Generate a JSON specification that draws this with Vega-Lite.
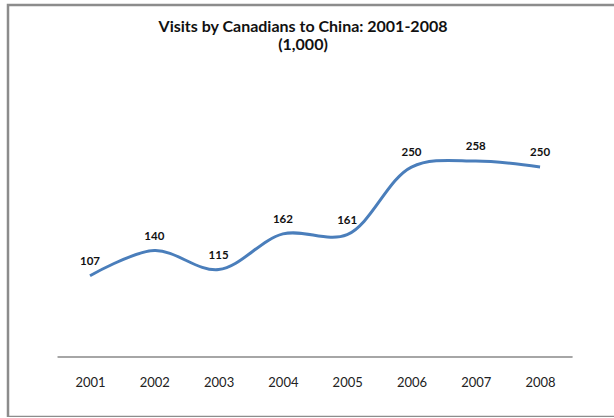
{
  "$schema": "https://vega.github.io/schema/vega-lite/v6.json",
  "width": 610,
  "height": 412,
  "autosize": {"type": "none"},
  "padding": {"left": 8, "top": 5, "right": 0, "bottom": 0},
  "background": "white",
  "config": {
    "view": {"stroke": "#8c8c8c", "strokeWidth": 2.5},
    "font": "Lato"
  },
  "title": {
    "text": ["Visits by Canadians to China: 2001-2008", "(1,000)"],
    "font": "Lato",
    "fontSize": 16,
    "fontWeight": "bold",
    "color": "#111111",
    "anchor": "middle",
    "dx": -10,
    "offset": -48,
    "lineHeight": 18
  },
  "data": {
    "values": [
      {"year": 2001, "visits": 107},
      {"year": 2002, "visits": 140},
      {"year": 2003, "visits": 115},
      {"year": 2004, "visits": 162},
      {"year": 2005, "visits": 161},
      {"year": 2006, "visits": 250},
      {"year": 2007, "visits": 258},
      {"year": 2008, "visits": 250}
    ]
  },
  "layer": [
    {
      "mark": {"type": "line", "interpolate": "catmull-rom", "color": "#4a7ebb", "strokeWidth": 3},
      "encoding": {
        "x": {
          "field": "year",
          "type": "quantitative",
          "scale": {"domain": [1999.7245, 2009.2125], "nice": false, "zero": false},
          "axis": {
            "values": [2001, 2002, 2003, 2004, 2005, 2006, 2007, 2008],
            "format": "d",
            "title": null,
            "domain": false,
            "ticks": false,
            "tickSize": 0,
            "grid": false,
            "offset": -35,
            "labelPadding": 0,
            "labelBaseline": "middle",
            "labelFlush": false,
            "labelOverlap": false,
            "labelFont": "Lato",
            "labelFontSize": 13,
            "labelColor": "#222222"
          }
        },
        "y": {
          "field": "visits",
          "type": "quantitative",
          "scale": {"domain": [-79, 463.3], "nice": false, "zero": false},
          "axis": null
        }
      }
    },
    {
      "mark": {"type": "text", "dy": -14, "baseline": "middle", "font": "Lato", "fontSize": 11.5, "fontWeight": "bold", "color": "#111111"},
      "encoding": {
        "x": {"field": "year", "type": "quantitative"},
        "y": {"field": "visits", "type": "quantitative"},
        "text": {"field": "visits", "type": "quantitative"}
      }
    },
    {
      "mark": {"type": "rule", "color": "#a6a6a6", "strokeWidth": 1},
      "encoding": {
        "x": {"datum": 2000.5},
        "x2": {"datum": 2008.5},
        "y": {"datum": 0}
      }
    }
  ]
}
